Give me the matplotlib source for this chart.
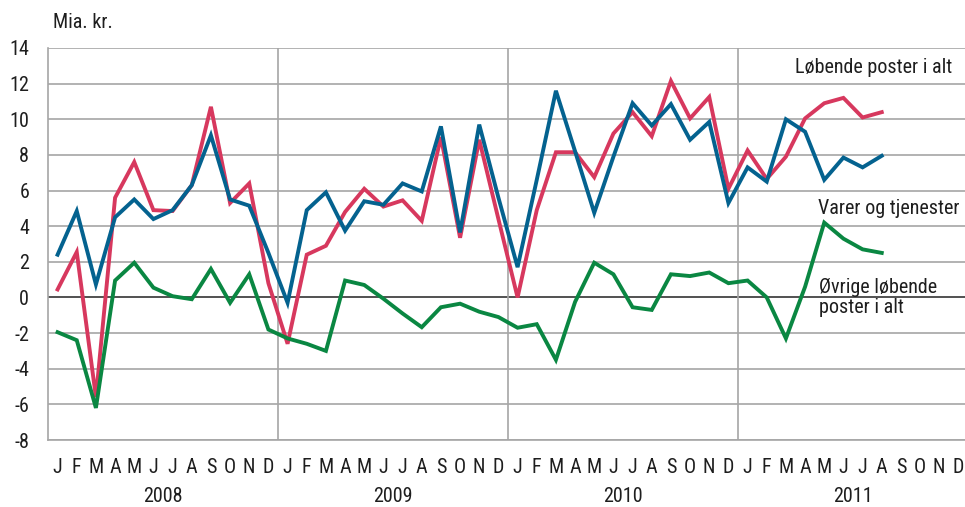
import matplotlib
matplotlib.use("Agg")
import matplotlib.pyplot as plt
from matplotlib import font_manager
import numpy as np

# pick a narrow sans if one is installed
names = {(f.name, f.stretch) for f in font_manager.fontManager.ttflist}
family_names = {n for n, _ in names}
font_family = "Liberation Sans"
font_stretch = "normal"
for cand in ["Liberation Sans Narrow", "Roboto Condensed", "Open Sans Condensed", "Noto Sans Condensed"]:
    if cand in family_names:
        font_family = cand
        break
else:
    if any(n == "DejaVu Sans" and s in ("condensed", "semi-condensed") for n, s in names):
        font_family = "DejaVu Sans"
        font_stretch = "condensed"

plt.rcParams['font.family'] = [font_family, 'DejaVu Sans']
plt.rcParams['font.stretch'] = font_stretch
plt.rcParams['axes.unicode_minus'] = False

years = ["2008", "2009", "2010", "2011"]
month_letters = ["J", "F", "M", "A", "M", "J", "J", "A", "S", "O", "N", "D"]

# Mia. kr., Jan 2008 - Aug 2011
lobende = [0.45, 2.55, -5.6, 5.6, 7.6, 4.9, 4.85, 6.3, 10.7, 5.3, 6.4, 0.8,
           -2.6, 2.4, 2.9, 4.8, 6.1, 5.1, 5.45, 4.3, 9.0, 3.35, 8.85, 4.4,
           0.0, 4.9, 8.15, 8.15, 6.75, 9.2, 10.4, 9.05, 12.15, 10.05, 11.25, 6.1,
           8.25, 6.65, 7.9, 10.05, 10.9, 11.2, 10.1, 10.4]
varer = [2.4, 4.85, 0.73, 4.5, 5.5, 4.4, 4.9, 6.3, 9.1, 5.5, 5.15, 2.5,
         -0.3, 4.9, 5.9, 3.75, 5.4, 5.2, 6.4, 5.95, 9.6, 3.65, 9.7, 5.6,
         1.7, 6.6, 11.6, 8.2, 4.75, 7.9, 10.9, 9.65, 10.85, 8.85, 9.85, 5.3,
         7.3, 6.5, 10.0, 9.3, 6.6, 7.85, 7.3, 7.95]
ovrige = [-1.95, -2.4, -6.2, 0.95, 1.95, 0.55, 0.07, -0.1, 1.6, -0.3, 1.3, -1.8,
          -2.3, -2.6, -3.0, 0.95, 0.7, -0.07, -0.9, -1.67, -0.55, -0.35, -0.8, -1.1,
          -1.7, -1.5, -3.5, -0.25, 1.95, 1.3, -0.55, -0.7, 1.3, 1.2, 1.4, 0.8,
          0.95, 0.0, -2.3, 0.6, 4.2, 3.3, 2.7, 2.5]

red = "#d7385e"
blue = "#04628f"
green = "#0a8742"
grid_c = "#a6a6a6"
txt_c = "#1e1e1e"
fs = 14.5 if font_stretch == "condensed" or font_family != "Liberation Sans" else 12.5

fig = plt.figure(figsize=(9.65, 5.07), dpi=100)
ax = fig.add_axes([48 / 965, 67 / 507, 920 / 965, 392 / 507])

n_months = len(years) * 12
x = np.arange(len(lobende))

ax.set_xlim(-0.5, n_months - 0.5)
ax.set_ylim(-8, 14)
ax.set_yticks(np.arange(-8, 15, 2))
ax.set_xticks([])

for v in np.arange(-8, 15, 2):
    if v != 0:
        ax.axhline(v, color=grid_c, linewidth=1.2, zorder=1)
ax.axhline(0, color="#222222", linewidth=1.1, zorder=1)
for k in range(1, len(years)):
    ax.axvline(k * 12 - 0.5, color=grid_c, linewidth=1.2, zorder=1)

for s in ["top", "right"]:
    ax.spines[s].set_visible(False)
for s in ["left", "bottom"]:
    ax.spines[s].set_color(grid_c)
    ax.spines[s].set_linewidth(1.2)

ax.tick_params(axis="y", length=0, pad=13.5, labelsize=fs, colors=txt_c)

ax.plot(x, lobende, color=red, linewidth=2.8, zorder=3, solid_joinstyle="miter")
ax.plot(x, varer, color=blue, linewidth=2.8, zorder=4, solid_joinstyle="miter")
ax.plot(x, ovrige, color=green, linewidth=2.8, zorder=3, solid_joinstyle="miter")

trans = ax.get_xaxis_transform()
for i in range(n_months):
    ax.text(i, -0.069, month_letters[i % 12], transform=trans, ha="center", va="center",
            fontsize=fs, color=txt_c)
for k, yr in enumerate(years):
    ax.text(k * 12 + 5.5, -0.145, yr, transform=trans, ha="center", va="center",
            fontsize=fs, color=txt_c)

ax.text(38.45, 12.9, "Løbende poster i alt", ha="left", va="center", fontsize=fs, color=txt_c)
ax.text(39.65, 5.0, "Varer og tjenester", ha="left", va="center", fontsize=fs, color=txt_c)
ax.text(39.75, 0.0, "Øvrige løbende\nposter i alt", ha="left", va="center", fontsize=fs,
        color=txt_c, linespacing=1.1)

fig.text(53 / 965, 1 - 22 / 507, "Mia. kr.", ha="left", va="center", fontsize=fs, color=txt_c)

fig.savefig("out.png", dpi=100)
